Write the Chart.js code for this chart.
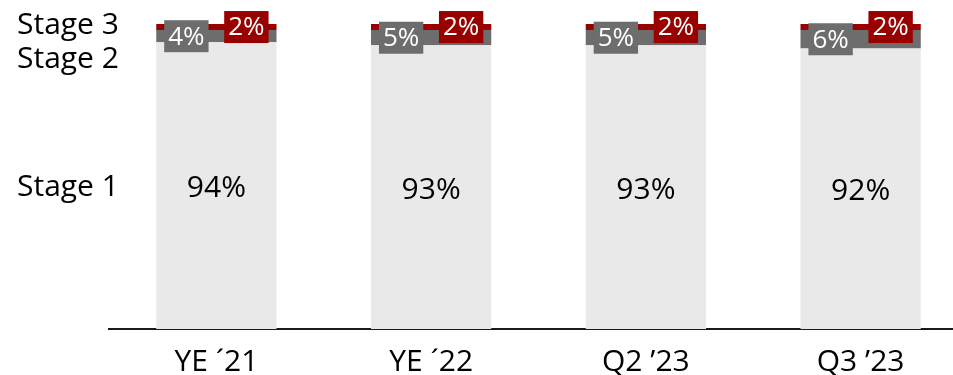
<!DOCTYPE html>
<html lang="en">
<head>
    <meta charset="UTF-8">
    <title>Stage distribution</title>
    <style>
        html, body { margin: 0; padding: 0; overflow: hidden; background: #fff; }
        #wrap { width: 968px; height: 390px; }
    </style>
</head>
<body>
<div id="wrap">
    <canvas id="myChart"></canvas>
</div>

<script src="https://cdn.jsdelivr.net/npm/chart.js"></script>

<script>

    const categories = ['YE \u00b421', 'YE \u00b422', 'Q2 \u201923', 'Q3 \u201923'];
    const stageNames = ['Stage 1', 'Stage 2', 'Stage 3'];
    const stage1 = [94, 93, 93, 92];
    const stage2 = [4, 5, 5, 6];
    const stage3 = [2, 2, 2, 2];

    const FONT = '"Open Sans", "Noto Sans", sans-serif';
    const colors = ['#e9e9e9', '#6d6d6d', '#990000'];

    // value labels: stage 1 inside the bar, stages 2 and 3 as small boxes
    const valueLabels = {
        id: 'valueLabels',
        afterDatasetsDraw(chart) {
            const ctx = chart.ctx;
            ctx.save();
            ctx.textAlign = 'center';
            ctx.textBaseline = 'middle';
            chart.data.datasets.forEach((ds, di) => {
                const meta = chart.getDatasetMeta(di);
                meta.data.forEach((bar, i) => {
                    const text = ds.data[i] + '%';
                    const cy = (bar.y + bar.base) / 2;
                    if (di === 0) {
                        ctx.font = '30px ' + FONT;
                        ctx.fillStyle = '#000';
                        ctx.fillText(text, bar.x, cy + 3);
                        return;
                    }
                    ctx.font = '26px ' + FONT;
                    const w = ctx.measureText(text).width + 8;
                    const h = 32;
                    const cx = di === 1 ? bar.x - 30 : bar.x + 30;
                    ctx.fillStyle = colors[di];
                    ctx.fillRect(cx - w / 2, cy - h / 2, w, h);
                    ctx.fillStyle = '#fff';
                    ctx.fillText(text, cx, cy + 1);
                });
            });
            ctx.restore();
        }
    };

    // series names on the left
    const stageNamesPlugin = {
        id: 'stageNames',
        afterDraw(chart) {
            const ctx = chart.ctx;
            const y = chart.scales.y;
            const first = chart.getDatasetMeta(0).data[0];
            const top = y.getPixelForValue(100);
            ctx.save();
            ctx.font = '30px ' + FONT;
            ctx.fillStyle = '#000';
            ctx.textAlign = 'left';
            ctx.textBaseline = 'middle';
            ctx.fillText(stageNames[2], 17, top + 1);
            ctx.fillText(stageNames[1], 17, top + 35);
            ctx.fillText(stageNames[0], 17, (first.y + first.base) / 2 + 2);
            ctx.restore();
        }
    };

    const data = {
        labels: categories,
        datasets: [
            { label: stageNames[0], data: stage1, backgroundColor: colors[0] },
            { label: stageNames[1], data: stage2, backgroundColor: colors[1] },
            { label: stageNames[2], data: stage3, backgroundColor: colors[2] }
        ]
    };

    const config = {
        type: 'bar',
        data: data,
        options: {
            responsive: true,
            maintainAspectRatio: false,
            animation: false,
            layout: {
                padding: { left: 109, top: 24, right: 0, bottom: 3 }
            },
            datasets: {
                bar: { barPercentage: 0.56, categoryPercentage: 1 }
            },
            plugins: {
                legend: false,
                tooltip: false
            },
            scales: {
                x: {
                    stacked: true,
                    grid: { display: false },
                    border: { display: true, color: '#1a1a1a', width: 2 },
                    ticks: {
                        color: '#000',
                        padding: 7,
                        font: { family: FONT, size: 30 }
                    }
                },
                y: {
                    stacked: true,
                    display: false,
                    min: 0,
                    max: 100
                }
            }
        },
        plugins: [valueLabels, stageNamesPlugin]
    };

    const chart = new Chart(document.getElementById('myChart'), config);

</script>

</body>
</html>
